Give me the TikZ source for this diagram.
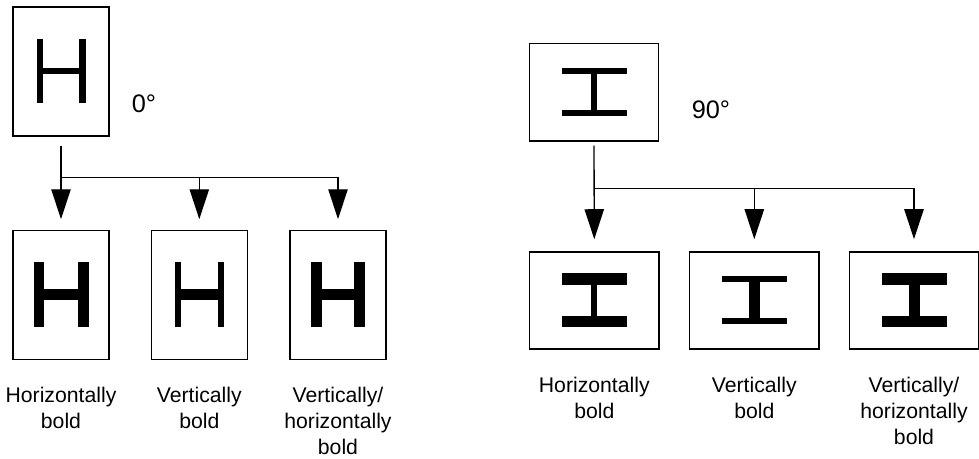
\documentclass[tikz,border=0pt]{standalone}
\usepackage{fontspec}
\setmainfont{Liberation Sans}
\usetikzlibrary{arrows.meta}

\newcommand{\hglyph}[4]{%
  \fill (-#1/2,-#2/2) rectangle ++(#3,#2);
  \fill (#1/2,-#2/2) rectangle ++(-#3,#2);
  \fill (-#1/2,-#4/2) rectangle (#1/2,#4/2);}

\tikzset{
  tallbox/.style={draw,line width=1.1pt,minimum width=72pt,minimum height=96.5pt,inner sep=0pt},
  widebox/.style={draw,line width=1.1pt,minimum width=97pt,minimum height=72.8pt,inner sep=0pt},
  link/.style={line width=1pt},
  flow/.style={line width=1pt,-{Triangle[length=22.5pt,width=14.5pt]}},
  caption/.style={anchor=north,inner sep=0pt,align=center,font=\fontsize{15.9}{19.5}\selectfont},
  degreelabel/.style={anchor=base west,inner sep=0pt,font=\fontsize{19}{22}\selectfont}
}

\begin{document}
\begin{tikzpicture}[x=0.75pt,y=-0.75pt,line join=miter]
  \useasboundingbox (0,0) rectangle (979,459);
  \node[tallbox] (h0) at (61,71.5) {};
  \node[tallbox] (h1) at (61,295) {};
  \node[tallbox] (h2) at (199.3,295) {};
  \node[tallbox] (h3) at (338,295) {};
  \begin{scope}[shift={(61,71.5)}] \hglyph{49}{64}{6.5}{6} \end{scope}
  \begin{scope}[shift={(61,295)}] \hglyph{55}{65}{10.7}{11} \end{scope}
  \begin{scope}[shift={(199.3,295)}] \hglyph{49}{65}{6.2}{11} \end{scope}
  \begin{scope}[shift={(338,295)}] \hglyph{54}{65}{10.7}{11} \end{scope}
  \node[degreelabel] (d0) at (131.5,112.5) {0°};
  \coordinate (b0) at (61,177.7);
  \draw[flow] ([yshift=-7pt]h0.south) -- ([yshift=8pt]h1.north);
  \draw[flow] (b0) -| ([yshift=8pt]h2.north);
  \draw[flow] (b0) -| ([yshift=8pt]h3.north);
  \node[caption] (c1) at (61,386.7) {Horizontally\\bold};
  \node[caption] (c2) at (199.3,386.7) {Vertically\\bold};
  \node[caption] (c3) at (338,386.7) {Vertically/\\horizontally\\bold};

  \node[widebox] (r0) at (594,92.3) {};
  \node[widebox] (r1) at (594.3,300.5) {};
  \node[widebox] (r2) at (754.3,300.5) {};
  \node[widebox] (r3) at (914,300.5) {};
  \begin{scope}[shift={(594,92.3)},rotate=90] \hglyph{48}{65}{5.8}{6} \end{scope}
  \begin{scope}[shift={(594.3,300.3)},rotate=90] \hglyph{54}{65}{11.5}{5.8} \end{scope}
  \begin{scope}[shift={(754.2,300.2)},rotate=90] \hglyph{48.3}{65}{6}{11} \end{scope}
  \begin{scope}[shift={(914.2,300.3)},rotate=90] \hglyph{54}{65}{11.5}{11.3} \end{scope}
  \node[degreelabel] (d1) at (691.5,119) {90°};
  \coordinate (b1) at (594.3,188.3);
  \draw[flow] ([yshift=-3pt]r0.south) -- ([yshift=9pt]r1.north);
  \draw[flow] (b1) -| ([yshift=9pt]r2.north);
  \draw[flow] (b1) -| ([yshift=9pt]r3.north);
  \node[caption] (c4) at (594.3,376.7) {Horizontally\\bold};
  \node[caption] (c5) at (754.3,376.7) {Vertically\\bold};
  \node[caption] (c6) at (914,376.7) {Vertically/\\horizontally\\bold};
\end{tikzpicture}
\end{document}
